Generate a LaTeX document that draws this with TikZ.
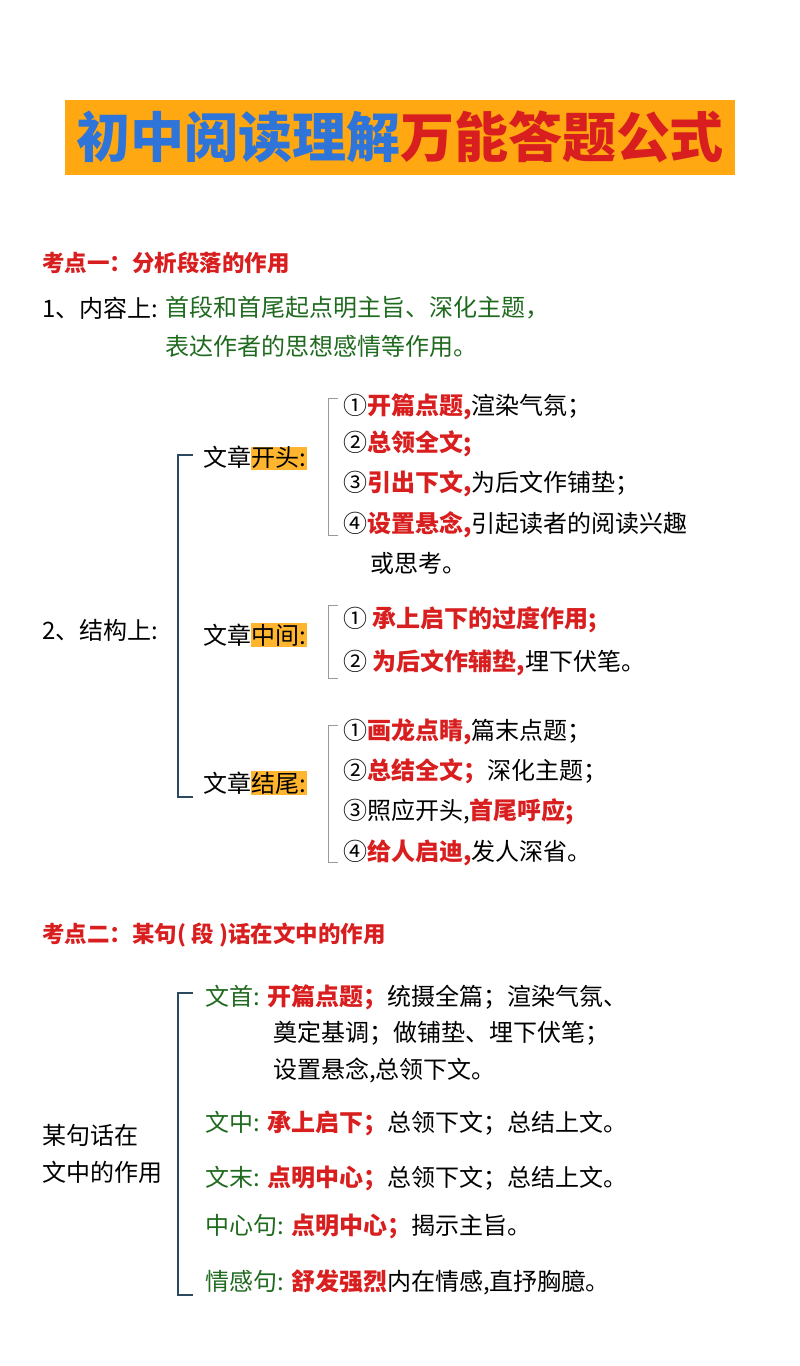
\documentclass[tikz,border=0pt]{standalone}
\usepackage{fontspec}
\setmainfont{Noto Sans CJK SC}
\usetikzlibrary{positioning}
\definecolor{ttlorange}{HTML}{FFA812}
\definecolor{ttlblue}{HTML}{2F74D8}
\definecolor{keyred}{HTML}{D81E1E}
\definecolor{txtgreen}{HTML}{1F6A1F}
\definecolor{hlorange}{HTML}{FFB62E}
\definecolor{brblue}{HTML}{2B4A60}
\newcommand{\hlbox}[1]{{\setlength{\fboxsep}{0.5pt}\colorbox{hlorange}{#1}}}
\newcommand{\kr}[1]{\textcolor{keyred}{\bfseries #1}}

\begin{document}
\begin{tikzpicture}[x=1pt,y=-1pt,
    txt/.style={anchor=west, inner sep=0pt, font=\fontsize{24}{28}\selectfont},
    head/.style={anchor=west, inner sep=0pt, text=keyred, font=\fontsize{22.5}{26}\selectfont\bfseries},
    bigbr/.style={draw=brblue, line width=2pt},
    smallbr/.style={draw=gray!80, line width=1pt}]
        \useasboundingbox (0,0) rectangle (800,1366);

        % Title
        \fill[ttlorange] (65,100) rectangle (735,175);
        \node[inner sep=0pt, font=\fontsize{54}{60}\selectfont\bfseries] (title) at (400,137)
            {\textcolor{ttlblue}{初中阅读理解}\textcolor{keyred}{万能答题公式}};

        % Part one
        \node[head] (k1) at (42,263) {考点一：分析段落的作用};
        \node[txt] (c1) at (42,308) {1、内容上:};
        \node[txt, text=txtgreen] (c1a) at (165,308) {首段和首尾起点明主旨、深化主题，};
        \node[txt, text=txtgreen] (c1b) at (165,346) {表达作者的思想感情等作用。};

        \node[txt] (s2) at (42,630) {2、结构上:};
        \draw[bigbr] (193,455) -- (178,455) -- (178,797) -- (193,797);

        \node[txt] (kt) at (203,458) {文章\hlbox{开头:}};
        \node[txt] (zj) at (203,635) {文章\hlbox{中间:}};
        \node[txt] (jw) at (203,783) {文章\hlbox{结尾:}};

        % Opening
        \draw[smallbr] (338,398) -- (328,398) -- (328,535) -- (338,535);
        \node[txt] (kt1) at (343,407) {①\kr{开篇点题,}渲染气氛；};
        \node[txt] (kt2) at (343,444) {②\kr{总领全文;}};
        \node[txt] (kt3) at (343,484) {③\kr{引出下文,}为后文作铺垫；};
        \node[txt] (kt4) at (343,525) {④\kr{设置悬念,}引起读者的阅读兴趣};
        \node[txt] (kt5) at (370,563) {或思考。};

        % Middle
        \draw[smallbr] (338,605) -- (328,605) -- (328,678) -- (338,678);
        \node[txt] (zj1) at (343,620) {① \kr{承上启下的过度作用;}};
        \node[txt] (zj2) at (343,663) {② \kr{为后文作辅垫,}埋下伏笔。};

        % Ending
        \draw[smallbr] (338,725) -- (328,725) -- (328,862) -- (338,862);
        \node[txt] (jw1) at (343,732) {①\kr{画龙点睛,}篇末点题；};
        \node[txt] (jw2) at (343,771) {②\kr{总结全文；}深化主题；};
        \node[txt] (jw3) at (343,812) {③照应开头,\kr{首尾呼应;}};
        \node[txt] (jw4) at (343,853) {④\kr{给人启迪,}发人深省。};

        % Part two
        \node[head] (k2) at (42,935) {考点二：某句( 段 )话在文中的作用};
        \draw[bigbr] (193,993) -- (178,993) -- (178,1295) -- (193,1295);
        \node[txt] (mj1) at (42,1135) {某句话在};
        \node[txt] (mj2) at (42,1172) {文中的作用};

        \node[txt] (ws) at (205,997) {\textcolor{txtgreen}{文首:} \kr{开篇点题；}统摄全篇；渲染气氛、};
        \node[txt] (ws2) at (273,1033) {奠定基调；做铺垫、埋下伏笔；};
        \node[txt] (ws3) at (273,1070) {设置悬念,总领下文。};
        \node[txt] (wz) at (205,1123) {\textcolor{txtgreen}{文中:} \kr{承上启下；}总领下文；总结上文。};
        \node[txt] (wm) at (205,1178) {\textcolor{txtgreen}{文末:} \kr{点明中心；}总领下文；总结上文。};
        \node[txt] (zx) at (205,1226) {\textcolor{txtgreen}{中心句:} \kr{点明中心；}揭示主旨。};
        \node[txt] (qg) at (205,1282) {\textcolor{txtgreen}{情感句:} \kr{舒发强烈}内在情感,直抒胸臆。};
    \end{tikzpicture}
\end{document}
